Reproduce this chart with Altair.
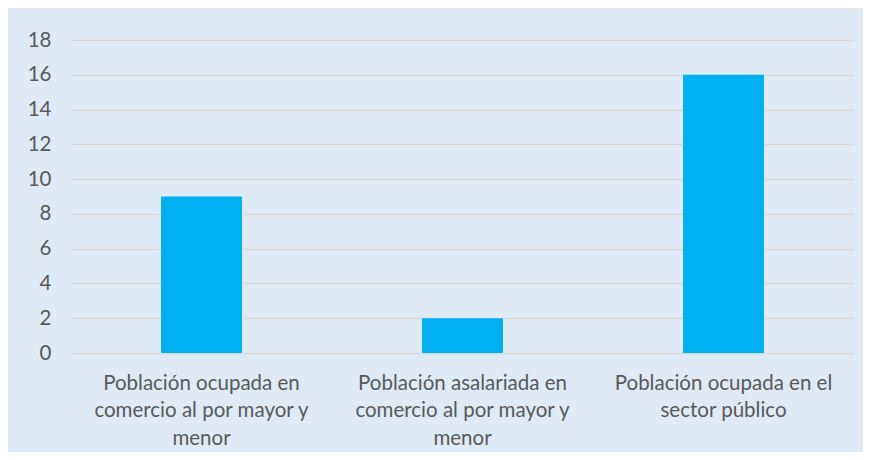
import altair as alt
import pandas as pd

categories = [
    "Población ocupada en|comercio al por mayor y|menor",
    "Población asalariada en|comercio al por mayor y|menor",
    "Población ocupada en el|sector público",
]
values = [9, 2, 16]
y_ticks = [0, 2, 4, 6, 8, 10, 12, 14, 16, 18]

df = pd.DataFrame({"cat": categories, "val": values})

FONT = "Lato"

chart = (
    alt.Chart(df)
    .mark_bar(color="#00B0F0")
    .encode(
        x=alt.X(
            "cat:N",
            sort=categories,
            title=None,
            scale=alt.Scale(paddingInner=0.69, paddingOuter=0.345),
            axis=alt.Axis(
                labelAngle=0,
                labelExpr="split(datum.label, '|')",
                labelFont=FONT,
                labelFontSize=20.5,
                labelColor="#595959",
                labelLineHeight=27.5,
                labelPadding=20,
                labelBaseline="top",
                ticks=False,
                domain=False,
                grid=False,
                labelLimit=400,
            ),
        ),
        y=alt.Y(
            "val:Q",
            title=None,
            scale=alt.Scale(domain=[0, 18], nice=False),
            axis=alt.Axis(
                values=y_ticks,
                labelFont=FONT,
                labelFontSize=20.5,
                labelColor="#595959",
                labelPadding=20,
                ticks=False,
                domain=False,
                gridColor="#D9D9D9",
                gridWidth=1.5,
            ),
        ),
    )
    .properties(
        width=783,
        height=313,
        autosize=alt.AutoSizeParams(type="none"),
        padding={"left": 63, "top": 32, "right": 9, "bottom": 99},
        background="#DEEBF7",
    )
    .configure_view(stroke=None)
)

chart.save("out.html", embed_options={"renderer": "svg", "actions": False})
